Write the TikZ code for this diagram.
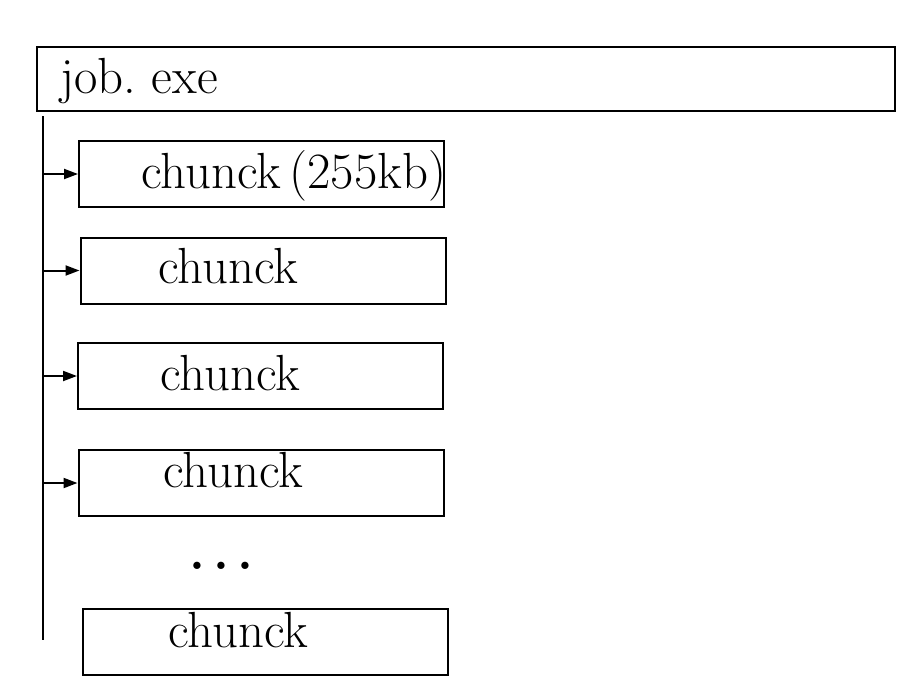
\documentclass[tikz,border=0pt]{standalone}
\usepackage{tikz}
\usetikzlibrary{arrows.meta}

\tikzset{
	box/.style = {draw, line width = 1pt, minimum width = 182.5pt, minimum height = 33pt, inner sep = 0pt},
	txt/.style = {anchor = base west, inner sep = 0pt, font = \fontsize{25.4}{30}\selectfont},
	feed/.style = {-{Triangle[length = 7pt, width = 5pt]}, line width = 1pt}
}

\begin{document}
\begin{tikzpicture}[x = .5pt, y = -.5pt]
	\useasboundingbox (0,0) rectangle (916,697);
	\node [box, minimum width = 429pt, minimum height = 32pt] (job) at (466,79) {};
	\node [box] (c1) at (261.5,174) {};
	\node [box] (c2) at (263,270.5) {};
	\node [box] (c3) at (260.5,376) {};
	\node [box] (c4) at (261,483) {};
	\node [box] (c5) at (265.5,642) {};
	\node [txt] (tjob) at (60,93) {job.\ exe};
	\node [txt] (t1) at (141,188) {chunck\,(255kb)};
	\node [txt] (t2) at (158,283) {chunck};
	\node [txt] (t3) at (160,390) {chunck};
	\node [txt] (t4) at (163,487) {chunck};
	\node [txt] (dots) at (189,569) {\bfseries .\kern 4pt.\kern 4pt.};
	\node [txt] (t5) at (168,647) {chunck};
	\coordinate (top) at (43,116);
	\coordinate (bot) at (43,640);
	\draw [line width = 1pt] (top) -- (bot);
	\draw [feed] (c1.west -| top) -- (c1.west);
	\draw [feed] (c2.west -| top) -- (c2.west);
	\draw [feed] (c3.west -| top) -- (c3.west);
	\draw [feed] (c4.west -| top) -- (c4.west);
\end{tikzpicture}
\end{document}
